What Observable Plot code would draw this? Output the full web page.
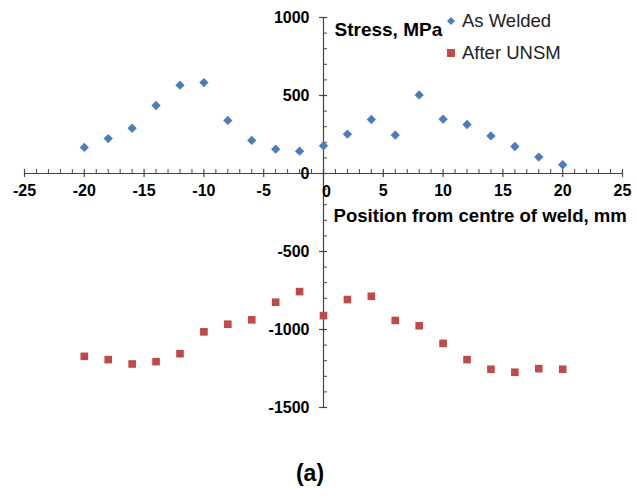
<!DOCTYPE html>
<html>
<head>
<meta charset="utf-8">
<script src="https://cdn.jsdelivr.net/npm/d3@7"></script>
<script src="https://cdn.jsdelivr.net/npm/@observablehq/plot@0.6"></script>
<style>
  html, body { margin: 0; padding: 0; background: #fff; }
  #wrap { position: relative; width: 637px; height: 496px; font-family: "Liberation Sans", Arial, sans-serif; }
  #legend { position: absolute; left: 446px; top: 5px; font-size: 18.5px; color: #222; }
  #legend .row { display: flex; align-items: center; height: 32px; }
  #legend svg { margin-right: 6px; }
  #caption { position: absolute; left: 0; width: 620px; top: 460px; text-align: center; font-weight: bold; font-size: 23px; color: #000; }
</style>
</head>
<body>
<div id="wrap">
  <div id="chart"></div>
  <div id="legend"></div>
  <div id="caption">(a)</div>
</div>
<script>
// Data
const positions = [-20, -18, -16, -14, -12, -10, -8, -6, -4, -2, 0, 2, 4, 6, 8, 10, 12, 14, 16, 18, 20];
const asWelded = [167, 224, 290, 436, 566, 583, 340, 212, 156, 143, 178, 252, 346, 246, 504, 348, 314, 241, 173, 105, 56];
const afterUNSM = [-1172, -1193, -1221, -1206, -1155, -1015, -966, -938, -825, -757, -911, -808, -787, -942, -976, -1089, -1193, -1255, -1274, -1251, -1255];
const seriesNames = ["As Welded", "After UNSM"];
const seriesColors = ["#4A7EBB", "#BE4B48"];
const xMajor = [-25, -20, -15, -10, -5, 0, 5, 10, 15, 20, 25];
const yMajor = [-1500, -1000, -500, 0, 500, 1000];
const xMinor = d3.range(-25, 26, 1).filter(v => v % 5 !== 0);
const yMinor = d3.range(-1500, 1001, 100).filter(v => v % 500 !== 0);
const yTitle = "Stress, MPa";
const xTitle = "Position from centre of weld, mm";

const welded = positions.map((p, i) => ({x: p, y: asWelded[i]}));
const unsm = positions.map((p, i) => ({x: p, y: afterUNSM[i]}));

const font = "Liberation Sans, Arial, sans-serif";
const chart = Plot.plot({
  width: 637,
  height: 450,
  marginTop: 17,
  marginBottom: 43,
  marginLeft: 24,
  marginRight: 15,
  style: {fontFamily: font, background: "#fff"},
  x: {domain: [-25, 25], axis: null},
  y: {domain: [-1500, 1000], axis: null},
  marks: [
    // axis lines
    Plot.ruleY([0], {stroke: "#444", strokeWidth: 1.2}),
    Plot.ruleX([0], {y1: -1500, y2: 1000, stroke: "#444", strokeWidth: 1.2}),
    // x ticks
    Plot.ruleX(xMajor, {x: d => d, y1: 0, y2: 0, insetTop: -4, insetBottom: -4, stroke: "#444", strokeWidth: 1.2}),
    Plot.ruleX(xMinor, {x: d => d, y1: 0, y2: 0, insetTop: -4, insetBottom: 0, stroke: "#444", strokeWidth: 1}),
    // y ticks
    Plot.ruleY(yMajor, {y: d => d, x1: 0, x2: 0, insetLeft: -4, insetRight: -4, stroke: "#444", strokeWidth: 1.2}),
    Plot.ruleY(yMinor, {y: d => d, x1: 0, x2: 0, insetLeft: 0, insetRight: -4, stroke: "#444", strokeWidth: 1}),
    // tick labels
    Plot.text(xMajor.filter(d => d !== 0), {x: d => d, y: 0, text: d => String(d), dy: 17, fontSize: 16, fontWeight: "bold", fill: "#000"}),
    Plot.text([0], {x: d => d, y: 0, text: d => String(d), dy: 18, dx: 3, fontSize: 16, fontWeight: "bold", fill: "#000"}),
    Plot.text(yMajor, {x: 0, y: d => d, text: d => String(d), dx: -14, textAnchor: "end", fontSize: 16, fontWeight: "bold", fill: "#000"}),
    // axis titles
    Plot.text([yTitle], {x: 0, y: 1000, text: d => d, dx: 11, dy: 12, textAnchor: "start", fontSize: 19, fontWeight: "bold", fill: "#000"}),
    Plot.text([xTitle], {x: 0, y: 0, text: d => d, dx: 10, dy: 43, textAnchor: "start", fontSize: 18.6, fontWeight: "bold", fill: "#000"}),
    // data
    Plot.dot(welded, {x: "x", y: "y", symbol: "diamond2", r: 4.2, fill: seriesColors[0], stroke: "none"}),
    Plot.dot(unsm, {x: "x", y: "y", symbol: "square", r: 4.3, fill: seriesColors[1], stroke: "none"})
  ]
});
document.getElementById("chart").appendChild(chart);

// legend
const legend = document.getElementById("legend");
const shapes = [
  '<svg width="10" height="10"><path d="M5,1L9,5L5,9L1,5Z" fill="' + seriesColors[0] + '"/></svg>',
  '<svg width="10" height="10"><rect x="1" y="1" width="8" height="8" fill="' + seriesColors[1] + '"/></svg>'
];
seriesNames.forEach((name, i) => {
  const row = document.createElement("div");
  row.className = "row";
  row.innerHTML = shapes[i] + '<span>' + name + '</span>';
  legend.appendChild(row);
});
</script>
</body>
</html>
